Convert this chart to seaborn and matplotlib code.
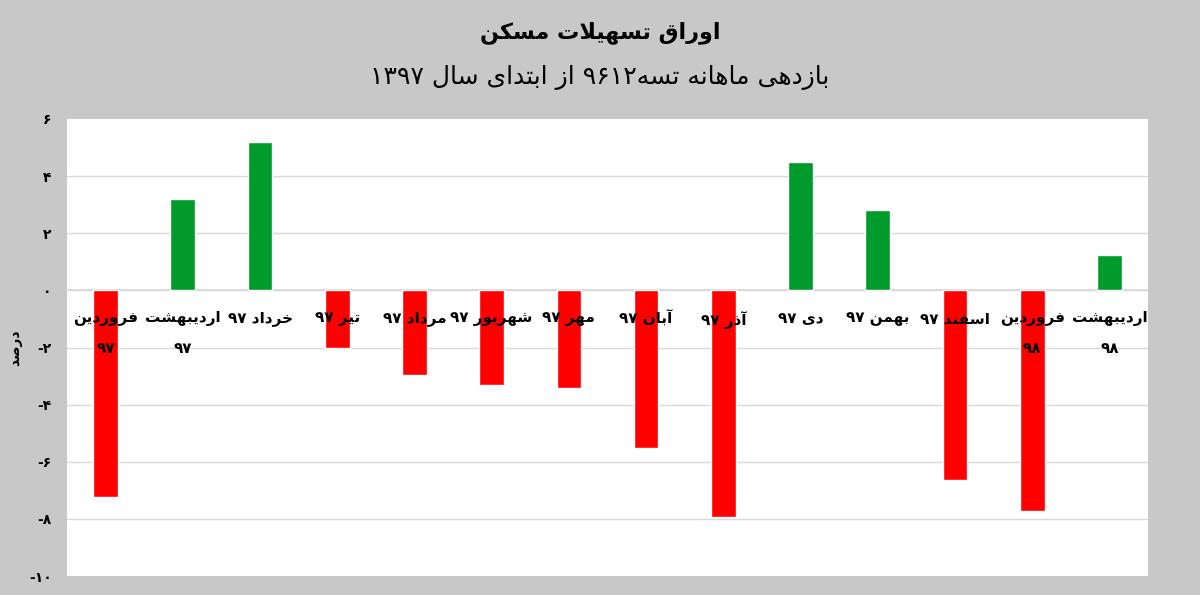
import re
import matplotlib
matplotlib.use("Agg")
import matplotlib.pyplot as plt
import seaborn as sns
import pandas as pd

# dati
months = ['فروردین\n۹۷', 'اردیبهشت\n۹۷', 'خرداد ۹۷', 'تیر ۹۷', 'مرداد ۹۷', 'شهریور ۹۷',
          'مهر ۹۷', 'آبان ۹۷', 'آذر ۹۷', 'دی ۹۷', 'بهمن ۹۷', 'اسفند ۹۷',
          'فروردین\n۹۸', 'اردیبهشت\n۹۸']
returns = [-7.25, 3.2, 5.2, -2.03, -2.97, -3.32, -3.42, -5.52, -7.95, 4.5, 2.82, -6.63, -7.73, 1.24]
ytick_vals = [-10, -8, -6, -4, -2, 0, 2, 4, 6]
ytick_labels = ['-۱۰', '-۸', '-۶', '-۴', '-۲', '۰', '۲', '۴', '۶']

title = 'اوراق تسهیلات مسکن'
subtitle = 'بازدهی ماهانه تسه۹۶۱۲ از ابتدای سال ۱۳۹۷'
ylabel = 'درصد'

# forme di presentazione arabe: (isolata, finale, iniziale, mediana)
FORMS = {
    'ا': ('\uFE8D', '\uFE8E', None, None),
    'آ': ('\uFE81', '\uFE82', None, None),
    'ب': ('\uFE8F', '\uFE90', '\uFE91', '\uFE92'),
    'ت': ('\uFE95', '\uFE96', '\uFE97', '\uFE98'),
    'خ': ('\uFEA5', '\uFEA6', '\uFEA7', '\uFEA8'),
    'د': ('\uFEA9', '\uFEAA', None, None),
    'ذ': ('\uFEAB', '\uFEAC', None, None),
    'ر': ('\uFEAD', '\uFEAE', None, None),
    'ز': ('\uFEAF', '\uFEB0', None, None),
    'س': ('\uFEB1', '\uFEB2', '\uFEB3', '\uFEB4'),
    'ش': ('\uFEB5', '\uFEB6', '\uFEB7', '\uFEB8'),
    'ص': ('\uFEB9', '\uFEBA', '\uFEBB', '\uFEBC'),
    'ف': ('\uFED1', '\uFED2', '\uFED3', '\uFED4'),
    'ق': ('\uFED5', '\uFED6', '\uFED7', '\uFED8'),
    'ل': ('\uFEDD', '\uFEDE', '\uFEDF', '\uFEE0'),
    'م': ('\uFEE1', '\uFEE2', '\uFEE3', '\uFEE4'),
    'ن': ('\uFEE5', '\uFEE6', '\uFEE7', '\uFEE8'),
    'ه': ('\uFEE9', '\uFEEA', '\uFEEB', '\uFEEC'),
    'و': ('\uFEED', '\uFEEE', None, None),
    'ک': ('\uFB8E', '\uFB8F', '\uFB90', '\uFB91'),
    'ی': ('\uFBFC', '\uFBFD', '\uFBFE', '\uFBFF'),
    'LA': ('\uFEFB', '\uFEFC', None, None),
}
DIGITS = '0123456789۰۱۲۳۴۵۶۷۸۹'


def reshape(text):
    seq = []
    i = 0
    while i < len(text):
        if text[i] == 'ل' and i + 1 < len(text) and text[i + 1] == 'ا':
            seq.append('LA')
            i += 2
        else:
            seq.append(text[i])
            i += 1
    res = []
    for k, c in enumerate(seq):
        if c not in FORMS:
            res.append(c)
            continue
        prev = seq[k - 1] if k > 0 else None
        nxt = seq[k + 1] if k + 1 < len(seq) else None
        jp = prev in FORMS and FORMS[prev][2] is not None
        jn = FORMS[c][2] is not None and nxt in FORMS
        f = FORMS[c]
        if jp and jn:
            res.append(f[3])
        elif jp:
            res.append(f[1])
        elif jn:
            res.append(f[2])
        else:
            res.append(f[0])
    return ''.join(res)


def fa(text):
    lines = []
    for line in text.split('\n'):
        s = reshape(line)
        runs = re.findall(r'[0-9۰-۹]+|[^0-9۰-۹]+', s)
        out = []
        for r in reversed(runs):
            out.append(r if r[0] in DIGITS else r[::-1])
        lines.append(''.join(out))
    return '\n'.join(lines)


sns.set_theme(style="white")
plt.rcParams['font.family'] = ['DejaVu Sans']

df = pd.DataFrame({'month': months, 'ret': returns})
df['segno'] = ['pos' if v >= 0 else 'neg' for v in returns]

fig = plt.figure(figsize=(12, 5.95), dpi=100, facecolor='#c8c8c8')
ax = fig.add_axes([67 / 1200, 1 - 576 / 595, 1081 / 1200, 457 / 595])
ax.set_facecolor('white')

sns.barplot(data=df, x='month', y='ret', hue='segno', order=months,
            palette={'pos': '#009b2a', 'neg': '#ff0000'}, dodge=False,
            saturation=1, width=0.32, legend=False, ax=ax, zorder=2)

ax.set_ylim(-10, 6)
ax.set_yticks(ytick_vals)
ax.set_yticklabels(ytick_labels, fontsize=10, fontweight='bold', color='black')
for y in ytick_vals[1:-1]:
    ax.axhline(y, color='#d9d9d9', lw=1, zorder=1)

for s in ['top', 'right', 'left']:
    ax.spines[s].set_visible(False)
ax.spines['bottom'].set_position(('data', 0))
ax.spines['bottom'].set_color('#d9d9d9')
ax.spines['bottom'].set_zorder(1)

ax.set_xticks(range(len(months)))
ax.set_xticklabels([fa(m) for m in months], fontsize=11, fontweight='bold',
                   color='black', linespacing=2.2)
ax.tick_params(axis='x', length=0, pad=15)
ax.tick_params(axis='y', length=0, pad=11)
ax.xaxis.set_zorder(5)

ax.set_xlabel('')
ax.set_ylabel(fa(ylabel), fontsize=10, fontweight='bold', color='black')
ax.yaxis.set_label_coords(-45 / 1081, 0.5)

fig.text(0.5, 1 - 33 / 595, fa(title), ha='center', va='center',
         fontsize=16, fontweight='bold', color='black')
fig.text(0.5, 1 - 77 / 595, fa(subtitle), ha='center', va='center',
         fontsize=18, color='black')

fig.savefig('out.png', dpi=100, facecolor=fig.get_facecolor())
